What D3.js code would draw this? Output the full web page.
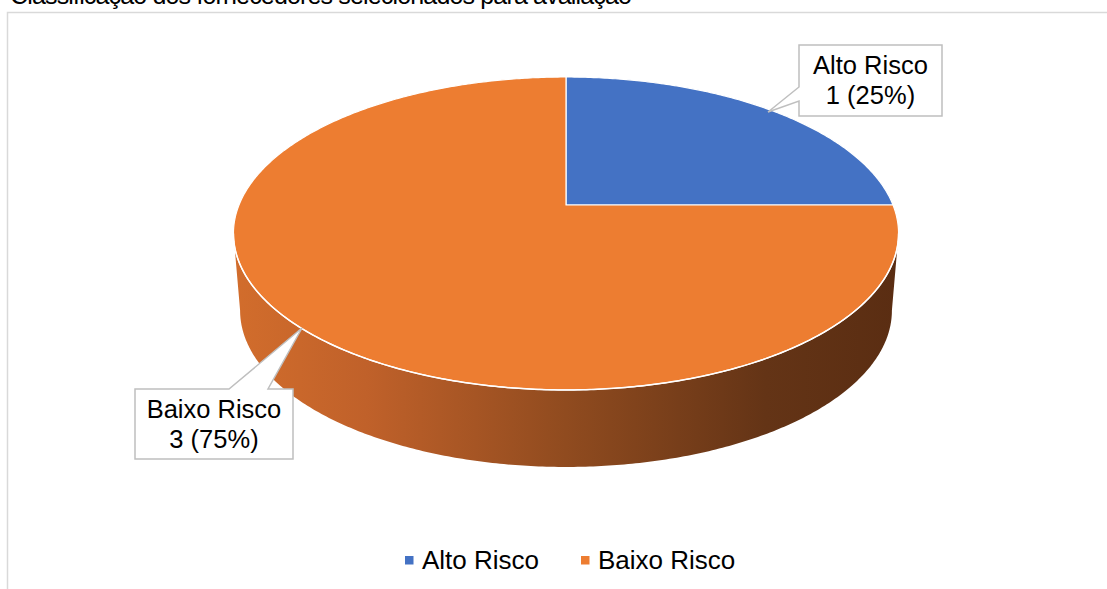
<!DOCTYPE html>
<html>
<head>
<meta charset="utf-8">
<script src="https://cdn.jsdelivr.net/npm/d3@7"></script>
<style>
  body { margin: 0; background: #fff; }
  svg { display: block; font-family: "Liberation Sans", Arial, sans-serif; }
</style>
</head>
<body>
<div id="chart"></div>
<script>
// data
var categorias = ["Alto Risco", "Baixo Risco"];
var valores = [1, 3];
var rotulos = ["1 (25%)", "3 (75%)"];
var cores = ["#4472c4", "#ed7d31"];
var titulo = "Classificação dos fornecedores selecionados para avaliação";

var W = 1107, H = 589;
var cx = 566, cy = 205;      // projected centre of the pie
var k = 0.182;               // perspective factor
var depth = 77;
var sxBottom = 0.98;

var svg = d3.select("#chart").append("svg")
    .attr("width", W)
    .attr("height", H);

// cut off title (only bottom visible in the original)
svg.append("text")
    .attr("x", 10)
    .attr("y", 3.5)
    .attr("font-size", 25)
    .attr("textLength", 622)
    .attr("fill", "#000")
    .text(titulo);

// chart frame
svg.append("path")
    .attr("d", "M7.5," + H + " V12.5 H" + W)
    .attr("fill", "none")
    .attr("stroke", "#d9d9d9")
    .attr("stroke-width", 1.5);

// scales for the projected unit circle
var xs = d3.scaleLinear().domain([-1, 1]).range([cx - 327, cx + 327]);
var ys = d3.scaleLinear().domain([-1, 1]).range([cy - 151.3, cy + 151.3]);

function proj(theta, bottom) {
    var u = Math.cos(theta), v = Math.sin(theta);
    var w = 1 - k * v;
    var x = xs(u / w), y = ys(v / w);
    if (bottom) {
        x = cx + (x - cx) * sxBottom;
        y = y + depth;
    }
    return [x, y];
}

function arcPts(t0, t1, bottom) {
    var n = Math.max(2, Math.ceil(Math.abs(t1 - t0) / 0.01));
    var pts = [];
    for (var i = 0; i <= n; i++) pts.push(proj(t0 + (t1 - t0) * i / n, bottom));
    return pts;
}

var pie = d3.pie().sort(null).value(function (d) { return d; });
var arcs = pie(valores);
// pie angle 0 = 12 o'clock -> theta = angle - PI/2
arcs.forEach(function (a, i) {
    a.t0 = a.startAngle - Math.PI / 2;
    a.t1 = a.endAngle - Math.PI / 2;
    a.cor = cores[i];
    a.nome = categorias[i];
    a.rotulo = rotulos[i];
});

var line = d3.line();

// side wall gradient
var defs = svg.append("defs");
var grad = defs.append("linearGradient")
    .attr("id", "parede")
    .attr("gradientUnits", "userSpaceOnUse")
    .attr("x1", cx - 333).attr("x2", cx + 333)
    .attr("y1", 0).attr("y2", 0);
grad.append("stop").attr("offset", 0).attr("stop-color", "#d26d2c");
grad.append("stop").attr("offset", 0.2).attr("stop-color", "#c0612a");
grad.append("stop").attr("offset", 0.5).attr("stop-color", "#904b1f");
grad.append("stop").attr("offset", 0.8).attr("stop-color", "#643416");
grad.append("stop").attr("offset", 1).attr("stop-color", "#5a2d12");

// front side visible between these angles
var f0 = Math.asin(k), f1 = Math.PI - Math.asin(k);

arcs.forEach(function (a) {
    var s = Math.max(a.t0, f0), e = Math.min(a.t1, f1);
    if (e <= s) return;
    var top = arcPts(s, e, false);
    var bot = arcPts(s, e, true).reverse();
    svg.append("path")
        .attr("d", line(top.concat(bot)) + "Z")
        .attr("fill", a.cor === cores[1] ? "url(#parede)" : "#2f4f8a");
});

// top faces
arcs.forEach(function (a) {
    var pts = [[cx, cy]].concat(arcPts(a.t0, a.t1, false));
    svg.append("path")
        .attr("d", line(pts) + "Z")
        .attr("fill", a.cor)
        .attr("stroke", "#fff")
        .attr("stroke-width", 1.2)
        .attr("stroke-linejoin", "round");
});

// white rim along the front edge
svg.append("path")
    .attr("d", line(arcPts(f0, f1, false)))
    .attr("fill", "none")
    .attr("stroke", "#fff")
    .attr("stroke-width", 1.5);

// callouts
var callouts = [
    { box: [799, 45, 942, 116], tip: [768, 112], base: [[799, 87], [799, 101]] },
    { box: [135, 389, 293, 459], tip: [302, 328], base: [[229, 389], [268, 389]] }
];

callouts.forEach(function (c, i) {
    var b = c.box;
    var pts;
    if (i === 0) {
        pts = [[b[0], b[1]], [b[2], b[1]], [b[2], b[3]], [b[0], b[3]],
               c.base[1], c.tip, c.base[0]];
    } else {
        pts = [[b[0], b[1]], c.base[0], c.tip, c.base[1], [b[2], b[1]],
               [b[2], b[3]], [b[0], b[3]]];
    }
    svg.append("path")
        .attr("d", line(pts) + "Z")
        .attr("fill", "#fff")
        .attr("stroke", "#bfbfbf")
        .attr("stroke-width", 1.5)
        .attr("stroke-linejoin", "miter");
    var mx = (b[0] + b[2]) / 2;
    svg.append("text")
        .attr("x", mx).attr("y", b[1] + 29)
        .attr("text-anchor", "middle")
        .attr("font-size", 25.5)
        .attr("fill", "#000")
        .text(arcs[i].nome);
    svg.append("text")
        .attr("x", mx).attr("y", b[1] + 59)
        .attr("text-anchor", "middle")
        .attr("font-size", 25.5)
        .attr("fill", "#000")
        .text(arcs[i].rotulo);
});

// legend
var legX = [405, 581];
var leg = svg.append("g");
categorias.forEach(function (c, i) {
    leg.append("rect")
        .attr("x", legX[i]).attr("y", 556)
        .attr("width", 8.5).attr("height", 8.5)
        .attr("fill", cores[i]);
    leg.append("text")
        .attr("x", legX[i] + 17).attr("y", 568.5)
        .attr("font-size", 26)
        .attr("fill", "#000")
        .text(c);
});
</script>
</body>
</html>
